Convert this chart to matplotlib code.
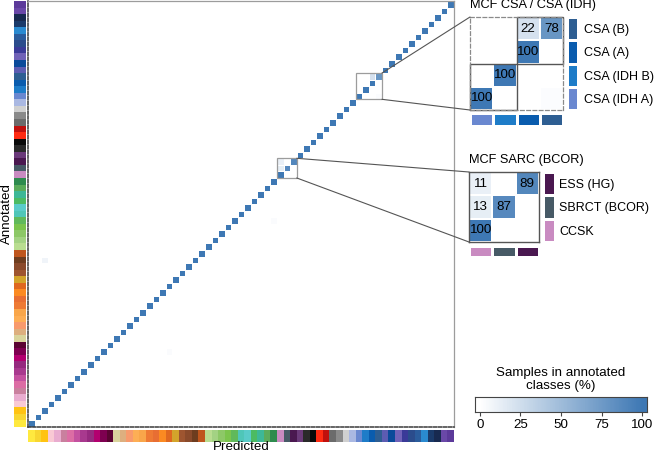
import matplotlib
matplotlib.use("Agg")
import matplotlib.pyplot as plt
import numpy as np
from matplotlib.colors import LinearSegmentedColormap, ListedColormap
from matplotlib.patches import Rectangle, ConnectionPatch

plt.rcParams["font.family"] = ["Liberation Sans", "DejaVu Sans"]

# class colours, index 0 = bottom row / left column
class_colors = [
    "#FFE93F", "#F8D631", "#FFC312", "#F9C9D4", "#E9ACCF", "#C9809E", "#DC6DA4", "#C4519F",
    "#A8398E", "#962A7F", "#B3006F", "#7E0050", "#5B0432", "#D9D49C", "#DDAF7F", "#F89A6C",
    "#FDAE55", "#F9A64A", "#EE7A34", "#E86E33", "#FB8A22", "#DF6820", "#D3A42B", "#9E5530",
    "#8A4A2B", "#6E3D1F", "#BF561D", "#B9DD90", "#A3D283", "#8DC867", "#7BC44C", "#60B95A",
    "#4FC6B8", "#5ACBC9", "#4CBB62", "#3DB896", "#5BAB5A", "#2E8B4E", "#C98BC1", "#475A66",
    "#4A1850", "#6B3A7A", "#2A2A2A", "#0A0A0A", "#FF2B12", "#C0100D", "#6B6B6B", "#8A8A8A",
    "#D0D0D0", "#AAB8E2", "#6A88D0", "#1E7CC8", "#0A5CAE", "#2E5E92", "#5C5CB2", "#0A4A9A",
    "#7062B8", "#3A3A98", "#2B4C8C", "#2B5C9C", "#2A8AD0", "#1A3A6A", "#182A50", "#6A48A8",
    "#5C3A9A",
]

# diagonal is 100 % except these rows
diag_exceptions = {39: 87, 40: 89, 53: 78}
# (annotated row, predicted column, percent)
off_diag = [(25, 2, 8), (11, 21, 3), (31, 37, 3), (39, 38, 13), (40, 38, 11),
            (50, 53, 2), (53, 52, 22)]

csa_idx = [50, 51, 52, 53]
csa_labels = ["CSA (IDH A)", "CSA (IDH B)", "CSA (A)", "CSA (B)"]
sarc_idx = [38, 39, 40]
sarc_labels = ["CCSK", "SBRCT (BCOR)", "ESS (HG)"]
cbar_ticks = [0, 25, 50, 75, 100]

W, H = 656, 454
LABEL_FS = 9.0
TITLE_FS = 9.2
NUM_FS = 9.6
BOX_GREY = "#9c9c9c"
LINE_GREY = "#555555"

cmap = LinearSegmentedColormap.from_list("pct", ["#FFFFFF", "#3E78B4"])


def px_axes(fig, x0, y0, x1, y1):
    return fig.add_axes([x0 / W, 1 - y1 / H, (x1 - x0) / W, (y1 - y0) / H])


def strip(ax, colors, vertical, gap=0.0):
    k = len(colors)
    vals = np.arange(k)[:, None] if vertical else np.arange(k)[None, :]
    ax.pcolormesh(vals, cmap=ListedColormap(colors), vmin=-0.5, vmax=k - 0.5,
                  edgecolors="white", linewidth=gap)
    ax.set_xticks([])
    ax.set_yticks([])
    for s in ax.spines.values():
        s.set_visible(False)


def inset(ax, idx):
    sub = conf[np.ix_(idx, idx)]
    k = len(idx)
    ax.pcolormesh(sub, cmap=cmap, vmin=0, vmax=100, edgecolors="white", linewidth=0.3)
    for r in range(k):
        for c in range(k):
            if sub[r, c] >= 10:
                ax.text(c + 0.5, r + 0.5, f"{sub[r, c]:.0f}", ha="center", va="center",
                        fontsize=NUM_FS, color="black")
    ax.set_xlim(0, k)
    ax.set_ylim(0, k)
    ax.set_xticks([])
    ax.set_yticks([])


n = len(class_colors)
conf = np.zeros((n, n))
for i in range(n):
    conf[i, i] = diag_exceptions.get(i, 100)
for r, c, v in off_diag:
    conf[r, c] = v

fig = plt.figure(figsize=(W / 100, H / 100), dpi=100)

# main confusion matrix
ax = px_axes(fig, 28, 1, 454, 427)
ax.pcolormesh(conf, cmap=cmap, vmin=0, vmax=100, edgecolors="white", linewidth=0.6)
ax.set_xlim(0, n)
ax.set_ylim(0, n)
ax.set_xticks([])
ax.set_yticks([])
for side in ["top", "right"]:
    ax.spines[side].set_color(BOX_GREY)
    ax.spines[side].set_linewidth(0.9)
for side in ["left", "bottom"]:
    ax.spines[side].set_color("#3a3a3a")
    ax.spines[side].set_linewidth(1.1)
    ax.spines[side].set_linestyle((0, (2, 1.2)))
ax.add_patch(Rectangle((csa_idx[0], csa_idx[0]), len(csa_idx), len(csa_idx),
                       fill=False, ec=BOX_GREY, lw=0.9))
ax.add_patch(Rectangle((sarc_idx[0], sarc_idx[0]), len(sarc_idx), len(sarc_idx),
                       fill=False, ec=BOX_GREY, lw=0.9))

ax_l = px_axes(fig, 14, 1, 26, 427)
strip(ax_l, class_colors, vertical=True)
ax_l.set_ylabel("Annotated", fontsize=9.6, labelpad=1)

ax_b = px_axes(fig, 28, 429.5, 454, 441.5)
strip(ax_b, class_colors, vertical=False)
ax_b.set_xlabel("Predicted", fontsize=9.6, labelpad=0)

# CSA inset
ax_c = px_axes(fig, 470, 17, 563, 110)
inset(ax_c, csa_idx)
for s in ax_c.spines.values():
    s.set_color("#8a8a8a")
    s.set_linestyle((0, (3, 2)))
    s.set_linewidth(0.9)
ax_c.add_patch(Rectangle((0, 0), 2, 2, fill=False, ec="#555555", lw=1.0, clip_on=False))
ax_c.add_patch(Rectangle((2, 2), 2, 2, fill=False, ec="#555555", lw=1.0, clip_on=False))
ax_c.annotate("MCF CSA / CSA (IDH)", xy=(0, 1), xycoords="axes fraction",
              xytext=(0, 4), textcoords="offset points", ha="left", va="bottom",
              fontsize=TITLE_FS)

ax_cr = px_axes(fig, 567, 17, 578, 110)
strip(ax_cr, [class_colors[i] for i in csa_idx], vertical=True, gap=2)
ax_cr.yaxis.tick_right()
ax_cr.set_yticks(np.arange(len(csa_idx)) + 0.5)
ax_cr.set_yticklabels(csa_labels, fontsize=LABEL_FS)
ax_cr.tick_params(length=0, pad=4)

ax_cb = px_axes(fig, 470, 113, 563, 126)
strip(ax_cb, [class_colors[i] for i in csa_idx], vertical=False, gap=2)

# SARC inset
ax_s = px_axes(fig, 469, 172, 539, 242)
inset(ax_s, sarc_idx)
for s in ax_s.spines.values():
    s.set_color("#555555")
    s.set_linewidth(1.0)
ax_s.annotate("MCF SARC (BCOR)", xy=(0, 1), xycoords="axes fraction",
              xytext=(0, 4), textcoords="offset points", ha="left", va="bottom",
              fontsize=TITLE_FS)

ax_sr = px_axes(fig, 543, 172, 555, 242)
strip(ax_sr, [class_colors[i] for i in sarc_idx], vertical=True, gap=2)
ax_sr.yaxis.tick_right()
ax_sr.set_yticks(np.arange(len(sarc_idx)) + 0.5)
ax_sr.set_yticklabels(sarc_labels, fontsize=LABEL_FS)
ax_sr.tick_params(length=0, pad=3)

ax_sb = px_axes(fig, 469, 246, 539, 257)
strip(ax_sb, [class_colors[i] for i in sarc_idx], vertical=False, gap=2)

# connector lines from zoom boxes to insets
k = len(csa_idx)
lo = csa_idx[0]
for ya, yb in [(lo + k, k), (lo, 0)]:
    fig.add_artist(ConnectionPatch(xyA=(lo + k, ya), coordsA=ax.transData,
                                   xyB=(0, yb), coordsB=ax_c.transData,
                                   color=LINE_GREY, lw=0.8))
k = len(sarc_idx)
lo = sarc_idx[0]
for ya, yb in [(lo + k, k), (lo, 0)]:
    fig.add_artist(ConnectionPatch(xyA=(lo + k, ya), coordsA=ax.transData,
                                   xyB=(0, yb), coordsB=ax_s.transData,
                                   color=LINE_GREY, lw=0.8))

# colour bar
cax = px_axes(fig, 475, 397, 647, 412)
grad_x = np.linspace(-3, 103, 213)
cax.pcolormesh(grad_x, [0, 1], np.clip(grad_x[:-1], 0, 100)[None, :], cmap=cmap,
               vmin=0, vmax=100)
cax.set_xlim(-3, 103)
cax.set_ylim(0, 1)
cax.set_yticks([])
cax.set_xticks(cbar_ticks)
cax.tick_params(axis="x", length=3, width=0.8, color="#444444", labelsize=9.6, pad=2)
for s in cax.spines.values():
    s.set_color("#444444")
    s.set_linewidth(0.8)
cax.set_title("Samples in annotated\nclasses (%)", fontsize=9.6, pad=6, linespacing=1.1)

fig.savefig("out.png", dpi=100)
